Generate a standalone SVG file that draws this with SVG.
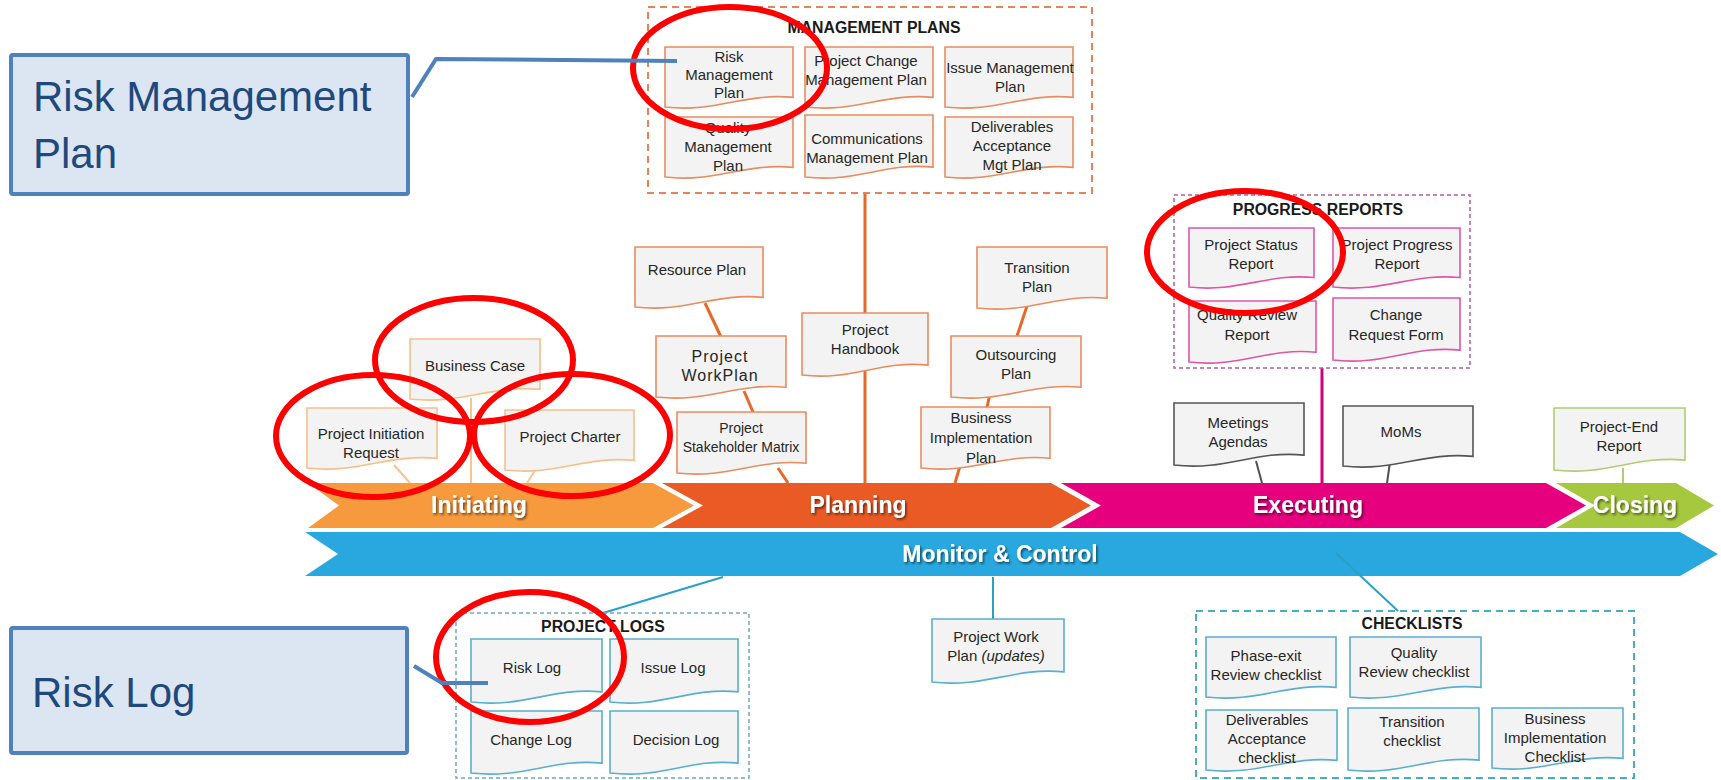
<svg xmlns="http://www.w3.org/2000/svg" xmlns:xlink="http://www.w3.org/1999/xlink" width="1721" height="780" viewBox="0 0 1721 780">
<style>
.t{font-family:"Liberation Sans",Arial,sans-serif;font-size:15px;fill:#262626;text-anchor:middle}
.tn{font-size:14px}
.tw{font-size:16px;letter-spacing:1px}
.ti{font-style:italic}
.hd{font-family:"Liberation Sans",Arial,sans-serif;font-size:15.8px;font-weight:bold;fill:#1a1a1a;text-anchor:middle}
.ph{font-family:"Liberation Sans",Arial,sans-serif;font-size:23px;font-weight:bold;fill:#ffffff;text-anchor:middle}
.doc{fill:#f3f3f3;stroke-width:1.6}
.d-ini{stroke:#f6c08c}
.d-pln{stroke:#e98c5e}
.d-exe{stroke:#e056a6}
.d-gry{stroke:#555555}
.d-cls{stroke:#afcd74}
.d-mon{stroke:#5aaecf}
.box{fill:none}
.c-ini{stroke:#f5c48f;stroke-width:2;fill:none}
.c-pln{stroke:#e4692a;stroke-width:3;fill:none}
.c-exe{stroke:#d1007d;stroke-width:3;fill:none}
.c-gry{stroke:#505050;stroke-width:2;fill:none}
.c-cls{stroke:#afcd74;stroke-width:2;fill:none}
.c-mon{stroke:#2a9fc9;stroke-width:2;fill:none}
.ring{fill:none;stroke:#ff0000;stroke-width:6}
.cb{fill:#dce6f2;stroke:#4f81bd;stroke-width:4}
.cbt{font-family:"Liberation Sans",Arial,sans-serif;font-size:42px;fill:#1f497d}
.cl{fill:none;stroke:#4f81bd;stroke-width:4}
</style>
<defs>
<path id="doc" d="M0,0 H1 V0.84 C0.62,0.76 0.4,1.1 0,1 Z" vector-effect="non-scaling-stroke"/>
<filter id="sh" x="-10%" y="-30%" width="130%" height="160%">
<feDropShadow dx="1.5" dy="1.8" stdDeviation="0.8" flood-color="#000" flood-opacity="0.55"/>
</filter>
</defs>
<rect width="1721" height="780" fill="#ffffff"/>

<g id="bands">
<g id="phase-initiating">
<polygon points="308,483 653,483 694,505.5 653,528 308,528 339,505.5" fill="#f79a3e"/>
<text class="ph" x="479" y="513" filter="url(#sh)">Initiating</text>
</g>
<g id="phase-planning">
<polygon points="662,483 1051,483 1091,505.5 1051,528 662,528 703,505.5" fill="#ea5a25"/>
<text class="ph" x="858" y="513" filter="url(#sh)">Planning</text>
</g>
<g id="phase-executing">
<polygon points="1061,483 1546,483 1586,505.5 1546,528 1061,528 1101,505.5" fill="#e6007e"/>
<text class="ph" x="1308" y="513" filter="url(#sh)">Executing</text>
</g>
<g id="phase-closing">
<polygon points="1556,483 1676,483 1714,505.5 1676,528 1556,528 1595,505.5" fill="#a6c83e"/>
<text class="ph" x="1635" y="513" filter="url(#sh)">Closing</text>
</g>
<g id="phase-monitor">
<polygon points="305,532 1680,532 1718,554 1680,576 305,576 338,554" fill="#29a8df"/>
<text class="ph" x="1000" y="562" filter="url(#sh)">Monitor &amp; Control</text>
</g>
</g>

<g id="connectors">
<line class="c-ini" x1="471" y1="398" x2="471" y2="483"/>
<line class="c-ini" x1="394" y1="465" x2="410" y2="483"/>
<line class="c-ini" x1="536" y1="469" x2="527" y2="483"/>
<line class="c-pln" x1="865" y1="193" x2="865" y2="483"/>
<line class="c-pln" x1="705" y1="303" x2="721" y2="337"/>
<line class="c-pln" x1="744" y1="391" x2="753" y2="412"/>
<line class="c-pln" x1="778" y1="468" x2="788" y2="483"/>
<line class="c-pln" x1="1027" y1="306" x2="1017" y2="336"/>
<line class="c-pln" x1="990" y1="394" x2="987" y2="407"/>
<line class="c-pln" x1="960" y1="466" x2="955" y2="483"/>
<line class="c-exe" x1="1322" y1="368" x2="1322" y2="483"/>
<line class="c-gry" x1="1256" y1="461" x2="1262" y2="483"/>
<line class="c-gry" x1="1390" y1="462" x2="1387" y2="483"/>
<line class="c-cls" x1="1623" y1="468" x2="1623" y2="483"/>
<line class="c-mon" x1="723" y1="577" x2="603" y2="613"/>
<line class="c-mon" x1="993" y1="577" x2="993" y2="619"/>
<line class="c-mon" x1="1336" y1="553" x2="1398" y2="611"/>
</g>

<g id="management-plans">
<rect class="box" x="648" y="7" width="444" height="186" stroke="#e8825a" stroke-width="2" stroke-dasharray="7,5"/>
<text class="hd" x="874" y="33">MANAGEMENT PLANS</text>
</g>
<g id="risk-management-plan">
<use xlink:href="#doc" class="doc d-pln" transform="translate(665 47) scale(128 60)"/>
<text class="t" x="729" y="62">Risk</text>
<text class="t" x="729" y="80">Management</text>
<text class="t" x="729" y="98">Plan</text>
</g>
<g id="project-change-management-plan">
<use xlink:href="#doc" class="doc d-pln" transform="translate(805 47) scale(128 60)"/>
<text class="t" x="866" y="66">Project Change</text>
<text class="t" x="866" y="85">Management Plan</text>
</g>
<g id="issue-management-plan">
<use xlink:href="#doc" class="doc d-pln" transform="translate(945 47) scale(128 60)"/>
<text class="t" x="1010" y="73">Issue Management</text>
<text class="t" x="1010" y="92">Plan</text>
</g>
<g id="quality-management-plan">
<use xlink:href="#doc" class="doc d-pln" transform="translate(665 117) scale(128 60)"/>
<text class="t" x="728" y="133">Quality</text>
<text class="t" x="728" y="152">Management</text>
<text class="t" x="728" y="171">Plan</text>
</g>
<g id="communications-management-plan">
<use xlink:href="#doc" class="doc d-pln" transform="translate(805 115) scale(128 62)"/>
<text class="t" x="867" y="144">Communications</text>
<text class="t" x="867" y="163">Management Plan</text>
</g>
<g id="deliverables-acceptance-mgt-plan">
<use xlink:href="#doc" class="doc d-pln" transform="translate(945 117) scale(128 60)"/>
<text class="t" x="1012" y="132">Deliverables</text>
<text class="t" x="1012" y="151">Acceptance</text>
<text class="t" x="1012" y="170">Mgt Plan</text>
</g>

<g id="business-case">
<use xlink:href="#doc" class="doc d-ini" transform="translate(410 339) scale(130 60)"/>
<text class="t" x="475" y="371">Business Case</text>
</g>
<g id="project-initiation-request">
<use xlink:href="#doc" class="doc d-ini" transform="translate(307 408) scale(130 60)"/>
<text class="t" x="371" y="439">Project Initiation</text>
<text class="t" x="371" y="458">Request</text>
</g>
<g id="project-charter">
<use xlink:href="#doc" class="doc d-ini" transform="translate(505 410) scale(129 60)"/>
<text class="t" x="570" y="442">Project Charter</text>
</g>

<g id="resource-plan">
<use xlink:href="#doc" class="doc d-pln" transform="translate(635 247) scale(128 60)"/>
<text class="t" x="697" y="275">Resource Plan</text>
</g>
<g id="project-workplan">
<use xlink:href="#doc" class="doc d-pln" transform="translate(656 336) scale(130 61)"/>
<text class="t tw" x="720" y="362">Project</text>
<text class="t tw" x="720" y="381">WorkPlan</text>
</g>
<g id="project-stakeholder-matrix">
<use xlink:href="#doc" class="doc d-pln" transform="translate(677 412) scale(129 61)"/>
<text class="t tn" x="741" y="433">Project</text>
<text class="t tn" x="741" y="452">Stakeholder Matrix</text>
</g>
<g id="project-handbook">
<use xlink:href="#doc" class="doc d-pln" transform="translate(802 313) scale(126 62)"/>
<text class="t" x="865" y="335">Project</text>
<text class="t" x="865" y="354">Handbook</text>
</g>
<g id="transition-plan">
<use xlink:href="#doc" class="doc d-pln" transform="translate(977 247) scale(130 61)"/>
<text class="t" x="1037" y="273">Transition</text>
<text class="t" x="1037" y="292">Plan</text>
</g>
<g id="outsourcing-plan">
<use xlink:href="#doc" class="doc d-pln" transform="translate(951 336) scale(130 61)"/>
<text class="t" x="1016" y="360">Outsourcing</text>
<text class="t" x="1016" y="379">Plan</text>
</g>
<g id="business-implementation-plan">
<use xlink:href="#doc" class="doc d-pln" transform="translate(921 407) scale(129 61)"/>
<text class="t" x="981" y="423">Business</text>
<text class="t" x="981" y="443">Implementation</text>
<text class="t" x="981" y="463">Plan</text>
</g>

<g id="progress-reports">
<rect class="box" x="1174" y="195" width="296" height="173" stroke="#b45c9b" stroke-width="1.5" stroke-dasharray="4,3"/>
<text class="hd" x="1318" y="215">PROGRESS REPORTS</text>
</g>
<g id="project-status-report">
<use xlink:href="#doc" class="doc d-exe" transform="translate(1189 228) scale(125 59)"/>
<text class="t" x="1251" y="250">Project Status</text>
<text class="t" x="1251" y="269">Report</text>
</g>
<g id="project-progress-report">
<use xlink:href="#doc" class="doc d-exe" transform="translate(1333 228) scale(127 59)"/>
<text class="t" x="1397" y="250">Project Progress</text>
<text class="t" x="1397" y="269">Report</text>
</g>
<g id="quality-review-report">
<use xlink:href="#doc" class="doc d-exe" transform="translate(1189 301) scale(127 61)"/>
<text class="t" x="1247" y="320">Quality Review</text>
<text class="t" x="1247" y="340">Report</text>
</g>
<g id="change-request-form">
<use xlink:href="#doc" class="doc d-exe" transform="translate(1333 298) scale(127 62)"/>
<text class="t" x="1396" y="320">Change</text>
<text class="t" x="1396" y="340">Request Form</text>
</g>
<g id="meetings-agendas">
<use xlink:href="#doc" class="doc d-gry" transform="translate(1174 403) scale(130 62)"/>
<text class="t" x="1238" y="428">Meetings</text>
<text class="t" x="1238" y="447">Agendas</text>
</g>
<g id="moms">
<use xlink:href="#doc" class="doc d-gry" transform="translate(1343 406) scale(130 60)"/>
<text class="t" x="1401" y="437">MoMs</text>
</g>
<g id="project-end-report">
<use xlink:href="#doc" class="doc d-cls" transform="translate(1554 408) scale(131 62)"/>
<text class="t" x="1619" y="432">Project-End</text>
<text class="t" x="1619" y="451">Report</text>
</g>

<g id="project-logs">
<rect class="box" x="456" y="613" width="293" height="165" stroke="#6fa8c0" stroke-width="1.5" stroke-dasharray="4,3"/>
<text class="hd" x="603" y="632">PROJECT LOGS</text>
</g>
<g id="risk-log">
<use xlink:href="#doc" class="doc d-mon" transform="translate(471 639) scale(131 63)"/>
<text class="t" x="532" y="673">Risk Log</text>
</g>
<g id="issue-log">
<use xlink:href="#doc" class="doc d-mon" transform="translate(610 639) scale(128 63)"/>
<text class="t" x="673" y="673">Issue Log</text>
</g>
<g id="change-log">
<use xlink:href="#doc" class="doc d-mon" transform="translate(471 711) scale(131 62)"/>
<text class="t" x="531" y="745">Change Log</text>
</g>
<g id="decision-log">
<use xlink:href="#doc" class="doc d-mon" transform="translate(610 711) scale(128 62)"/>
<text class="t" x="676" y="745">Decision Log</text>
</g>
<g id="project-work-plan-updates">
<use xlink:href="#doc" class="doc d-mon" transform="translate(932 619) scale(132 63)"/>
<text class="t" x="996" y="642">Project Work</text>
<text class="t" x="996" y="661">Plan <tspan class="ti">(updates)</tspan></text>
</g>

<g id="checklists">
<rect class="box" x="1196" y="611" width="438" height="167" stroke="#4bacc6" stroke-width="2" stroke-dasharray="7,5"/>
<text class="hd" x="1412" y="629">CHECKLISTS</text>
</g>
<g id="phase-exit-review-checklist">
<use xlink:href="#doc" class="doc d-mon" transform="translate(1206 637) scale(130 60)"/>
<text class="t" x="1266" y="661">Phase-exit</text>
<text class="t" x="1266" y="680">Review checklist</text>
</g>
<g id="quality-review-checklist">
<use xlink:href="#doc" class="doc d-mon" transform="translate(1350 637) scale(131 60)"/>
<text class="t" x="1414" y="658">Quality</text>
<text class="t" x="1414" y="677">Review checklist</text>
</g>
<g id="deliverables-acceptance-checklist">
<use xlink:href="#doc" class="doc d-mon" transform="translate(1206 710) scale(131 60)"/>
<text class="t" x="1267" y="725">Deliverables</text>
<text class="t" x="1267" y="744">Acceptance</text>
<text class="t" x="1267" y="763">checklist</text>
</g>
<g id="transition-checklist">
<use xlink:href="#doc" class="doc d-mon" transform="translate(1348 708) scale(131 62)"/>
<text class="t" x="1412" y="727">Transition</text>
<text class="t" x="1412" y="746">checklist</text>
</g>
<g id="business-implementation-checklist">
<use xlink:href="#doc" class="doc d-mon" transform="translate(1492 708) scale(131 60)"/>
<text class="t" x="1555" y="724">Business</text>
<text class="t" x="1555" y="743">Implementation</text>
<text class="t" x="1555" y="762">Checklist</text>
</g>

<g id="highlights">
<ellipse class="ring" cx="730" cy="68" rx="97" ry="61"/>
<ellipse class="ring" cx="474" cy="360" rx="99" ry="62"/>
<ellipse class="ring" cx="373" cy="436" rx="97" ry="61"/>
<ellipse class="ring" cx="572" cy="435" rx="98" ry="61"/>
<ellipse class="ring" cx="1245" cy="252" rx="98" ry="61"/>
<ellipse class="ring" cx="530" cy="657" rx="94" ry="65"/>
</g>

<g id="callout-risk-management-plan">
<rect class="cb" x="11" y="55" width="397" height="139" rx="2"/>
<text class="cbt" x="33" y="111">Risk Management</text>
<text class="cbt" x="33" y="168">Plan</text>
<polyline class="cl" points="412,97 436,59 677,61"/>
</g>
<g id="callout-risk-log">
<rect class="cb" x="11" y="628" width="396" height="125" rx="2"/>
<text class="cbt" x="32" y="707">Risk Log</text>
<polyline class="cl" points="414,666 442,683 488,683"/>
</g>
</svg>
